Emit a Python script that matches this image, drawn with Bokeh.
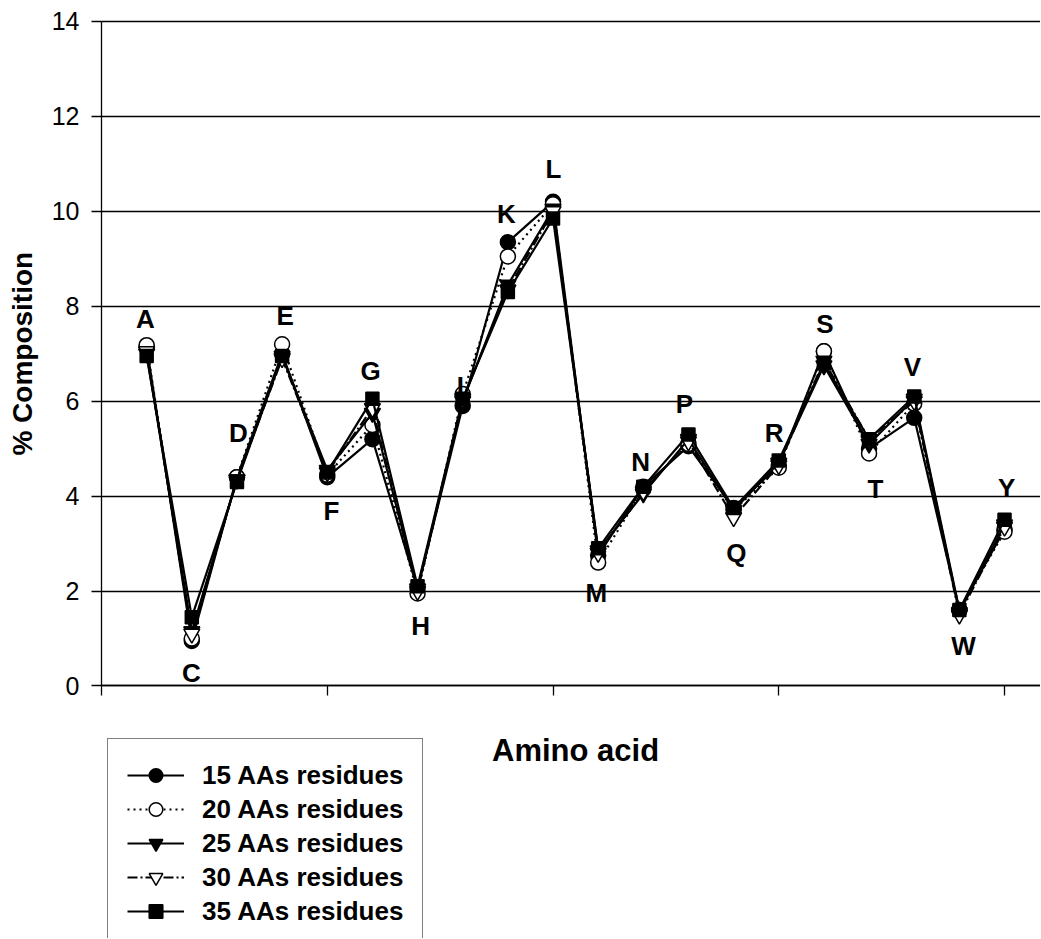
from math import pi
from bokeh.plotting import figure
from bokeh.models import Range1d, FixedTicker, Legend, LegendItem, Label, ColumnDataSource
from bokeh.core.properties import value
from bokeh.embed import file_html
from bokeh.resources import INLINE

# ---- data ----
amino_acids = ["A", "C", "D", "E", "F", "G", "H", "I", "K", "L",
               "M", "N", "P", "Q", "R", "S", "T", "V", "W", "Y"]
positions = list(range(1, 21))

s15 = [7.15, 0.95, 4.40, 7.00, 4.40, 5.20, 2.05, 5.90, 9.35, 10.20,
       2.75, 4.20, 5.05, 3.75, 4.65, 7.05, 5.00, 5.65, 1.60, 3.30]
s20 = [7.18, 1.00, 4.40, 7.20, 4.45, 5.50, 1.95, 6.15, 9.05, 10.15,
       2.60, 4.15, 5.10, 3.70, 4.60, 7.05, 4.90, 5.95, 1.60, 3.25]
s25 = [7.00, 1.15, 4.35, 6.95, 4.55, 5.75, 2.05, 6.00, 8.45, 10.05,
       2.85, 4.05, 5.20, 3.70, 4.70, 6.75, 5.10, 6.05, 1.55, 3.40]
s30 = [7.05, 1.10, 4.35, 6.90, 4.50, 5.85, 2.00, 6.05, 8.35, 10.00,
       2.80, 4.10, 5.15, 3.55, 4.65, 6.85, 5.20, 6.00, 1.50, 3.35]
s35 = [6.95, 1.45, 4.30, 6.95, 4.50, 6.05, 2.10, 6.05, 8.30, 9.85,
       2.90, 4.20, 5.30, 3.75, 4.75, 6.80, 5.20, 6.10, 1.60, 3.50]

series_names = ["15 AAs residues", "20 AAs residues", "25 AAs residues",
                "30 AAs residues", "35 AAs residues"]

# label positions for amino-acid letters (data coordinates)
label_x = [0.97, 1.99, 3.03, 4.07, 5.09, 5.96, 7.07, 7.95, 8.97, 10.01,
           10.96, 11.94, 12.91, 14.06, 14.90, 16.02, 17.14, 17.96, 19.09, 20.05]
label_y = [7.74, 0.28, 5.32, 7.80, 3.69, 6.64, 1.27, 6.31, 9.95, 10.89,
           1.95, 4.71, 5.95, 2.81, 5.32, 7.63, 4.16, 6.71, 0.85, 4.18]

y_ticks = [0, 2, 4, 6, 8, 10, 12, 14]
x_ticks = [0, 5, 10, 15, 20]

X_MIN, X_MAX = -2.237, 20.797
Y_MIN, Y_MAX = -5.32, 14.442

# ---- figure ----
p = figure(width=1040, height=938, output_backend="svg", toolbar_location=None,
           x_range=Range1d(X_MIN, X_MAX), y_range=Range1d(Y_MIN, Y_MAX),
           min_border=0)
p.outline_line_color = None
p.background_fill_color = "white"
p.border_fill_color = "white"

p.xgrid.visible = False
if "cross_bounds" in p.ygrid[0].properties():
    p.ygrid.ticker = FixedTicker(ticks=y_ticks)
    p.ygrid.grid_line_color = "black"
    p.ygrid.grid_line_width = 1.3
    p.ygrid.cross_bounds = (0, X_MAX)
else:
    p.ygrid.visible = False
    p.segment(x0=0, x1=X_MAX, y0=y_ticks, y1=y_ticks,
              line_color="black", line_width=1.3)

p.yaxis.fixed_location = 0
p.yaxis.bounds = (0, 14)
p.yaxis.ticker = FixedTicker(ticks=y_ticks)
p.yaxis.major_tick_in = 0
p.yaxis.major_tick_out = 10
p.yaxis.minor_tick_line_color = None
p.yaxis.axis_line_color = "black"
p.yaxis.axis_line_width = 1.3
p.yaxis.major_tick_line_width = 1.3
p.yaxis.major_label_text_font = "Liberation Sans"
p.yaxis.major_label_text_font_size = "25px"
p.yaxis.major_label_text_color = "black"
p.yaxis.major_label_standoff = 12

p.xaxis.fixed_location = 0
p.xaxis.bounds = (0, X_MAX)
p.xaxis.ticker = FixedTicker(ticks=x_ticks)
p.xaxis.major_label_overrides = {t: "" for t in x_ticks}
p.xaxis.major_tick_in = 0
p.xaxis.major_tick_out = 10
p.xaxis.minor_tick_line_color = None
p.xaxis.axis_line_color = "black"
p.xaxis.axis_line_width = 1.3
p.xaxis.major_tick_line_width = 1.3

styles = [
    dict(data=s15, dash="solid", marker="circle", fill="black", size=15),
    dict(data=s20, dash="2 4", marker="circle", fill="white", size=15),
    dict(data=s25, dash="solid", marker="inverted_triangle", fill="black", size=16),
    dict(data=s30, dash="10 3 2 3", marker="inverted_triangle", fill="white", size=16),
    dict(data=s35, dash="solid", marker="square", fill="black", size=13),
]

items = []
for name, st in zip(series_names, styles):
    src = ColumnDataSource(dict(x=positions, y=st["data"]))
    ln = p.line("x", "y", source=src, line_color="black", line_width=2.2,
                line_dash=st["dash"])
    mk = p.scatter("x", "y", source=src, marker=st["marker"], size=st["size"],
                   fill_color=st["fill"], line_color="black", line_width=1.5)
    items.append(LegendItem(label=name, renderers=[ln, mk]))

# amino-acid letter labels
lab_src = ColumnDataSource(dict(x=label_x, y=label_y, t=amino_acids))
p.text("x", "y", text="t", source=lab_src, text_font=value("Liberation Sans"),
       text_font_style="bold", text_font_size="26px", text_color="black",
       text_align="center", text_baseline="middle")

# axis titles
p.add_layout(Label(x=-1.74, y=7, text="% Composition", angle=pi / 2,
                   text_font="Liberation Sans", text_font_style="bold",
                   text_font_size="28px", text_color="black",
                   text_align="center", text_baseline="middle"))
p.add_layout(Label(x=10.5, y=-1.36, text="Amino acid",
                   text_font="Liberation Sans", text_font_style="bold",
                   text_font_size="31px", text_color="black",
                   text_align="center", text_baseline="middle"))

legend = Legend(items=items, location=(107, -10), margin=0, padding=19,
                spacing=0, label_height=34, glyph_height=34, glyph_width=57,
                label_standoff=18, border_line_color="black",
                border_line_width=1.3, background_fill_color="white",
                background_fill_alpha=1.0,
                label_text_font="Liberation Sans", label_text_font_style="bold",
                label_text_font_size="26px", label_text_color="black")
p.add_layout(legend, "center")

open("out.html", "w").write(file_html(p, INLINE))
